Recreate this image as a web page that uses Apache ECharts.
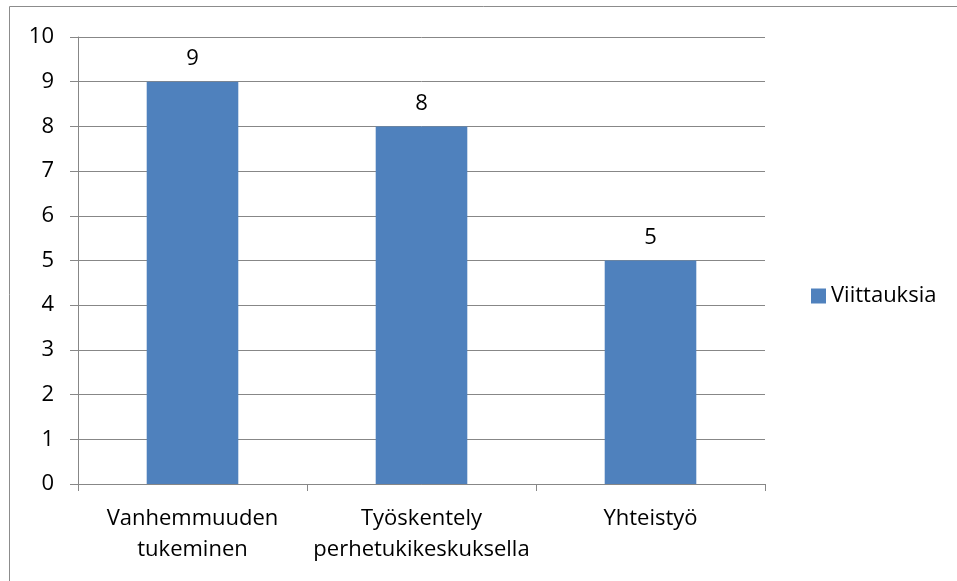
<!DOCTYPE html>
<html>
<head>
<meta charset="utf-8">
<script src="https://cdn.jsdelivr.net/npm/echarts@6/dist/echarts.min.js"></script>
<style>
  html, body { margin: 0; padding: 0; background: #fff; }
  #chart { width: 957px; height: 581px; }
</style>
</head>
<body>
<div id="chart"></div>
<script>
// data
const categories = ['Vanhemmuuden\ntukeminen', 'Työskentely\nperhetukikeskuksella', 'Yhteistyö']
const seriesName = 'Viittauksia'
const values = [9, 8, 5]

const font = '"Open Sans", Lato, sans-serif'
const chart = echarts.init(document.getElementById('chart'))
chart.setOption({
  backgroundColor: '#fff',
  textStyle: { fontFamily: font },
  animation: false,
  graphic: [{
    type: 'rect',
    shape: { x: 9.5, y: 6.5, width: 1000, height: 700 },
    style: { fill: 'none', stroke: '#8c8c8c', lineWidth: 1 }
  }],
  legend: {
    data: [seriesName],
    left: 806,
    top: 280,
    icon: 'rect',
    itemWidth: 15,
    itemHeight: 15,
    itemGap: 6,
    textStyle: { fontSize: 22, color: '#000', fontFamily: font }
  },
  grid: {
    left: 78,
    right: 192,
    top: 37,
    bottom: 97,
    containLabel: false
  },
  xAxis: {
    type: 'category',
    data: categories,
    axisLine: { lineStyle: { color: '#878787', width: 1 } },
    axisTick: { show: true, length: 7, lineStyle: { color: '#878787' } },
    axisLabel: {
      interval: 0,
      color: '#000',
      fontSize: 22,
      lineHeight: 31,
      margin: 19,
      fontFamily: font
    }
  },
  yAxis: {
    type: 'value',
    min: 0,
    max: 10,
    interval: 1,
    axisLine: { show: true, lineStyle: { color: '#878787', width: 1 } },
    axisTick: { show: true, length: 8, inside: false, lineStyle: { color: '#878787' } },
    splitLine: { lineStyle: { color: '#878787', width: 1 } },
    axisLabel: { color: '#000', fontSize: 22, margin: 24, fontFamily: font }
  },
  series: [{
    name: seriesName,
    type: 'bar',
    data: values,
    barWidth: '40%',
    itemStyle: { color: '#4f81bd' },
    label: {
      show: true,
      position: 'top',
      distance: 12,
      color: '#000',
      fontSize: 22,
      fontFamily: font
    }
  }]
})
</script>
</body>
</html>
